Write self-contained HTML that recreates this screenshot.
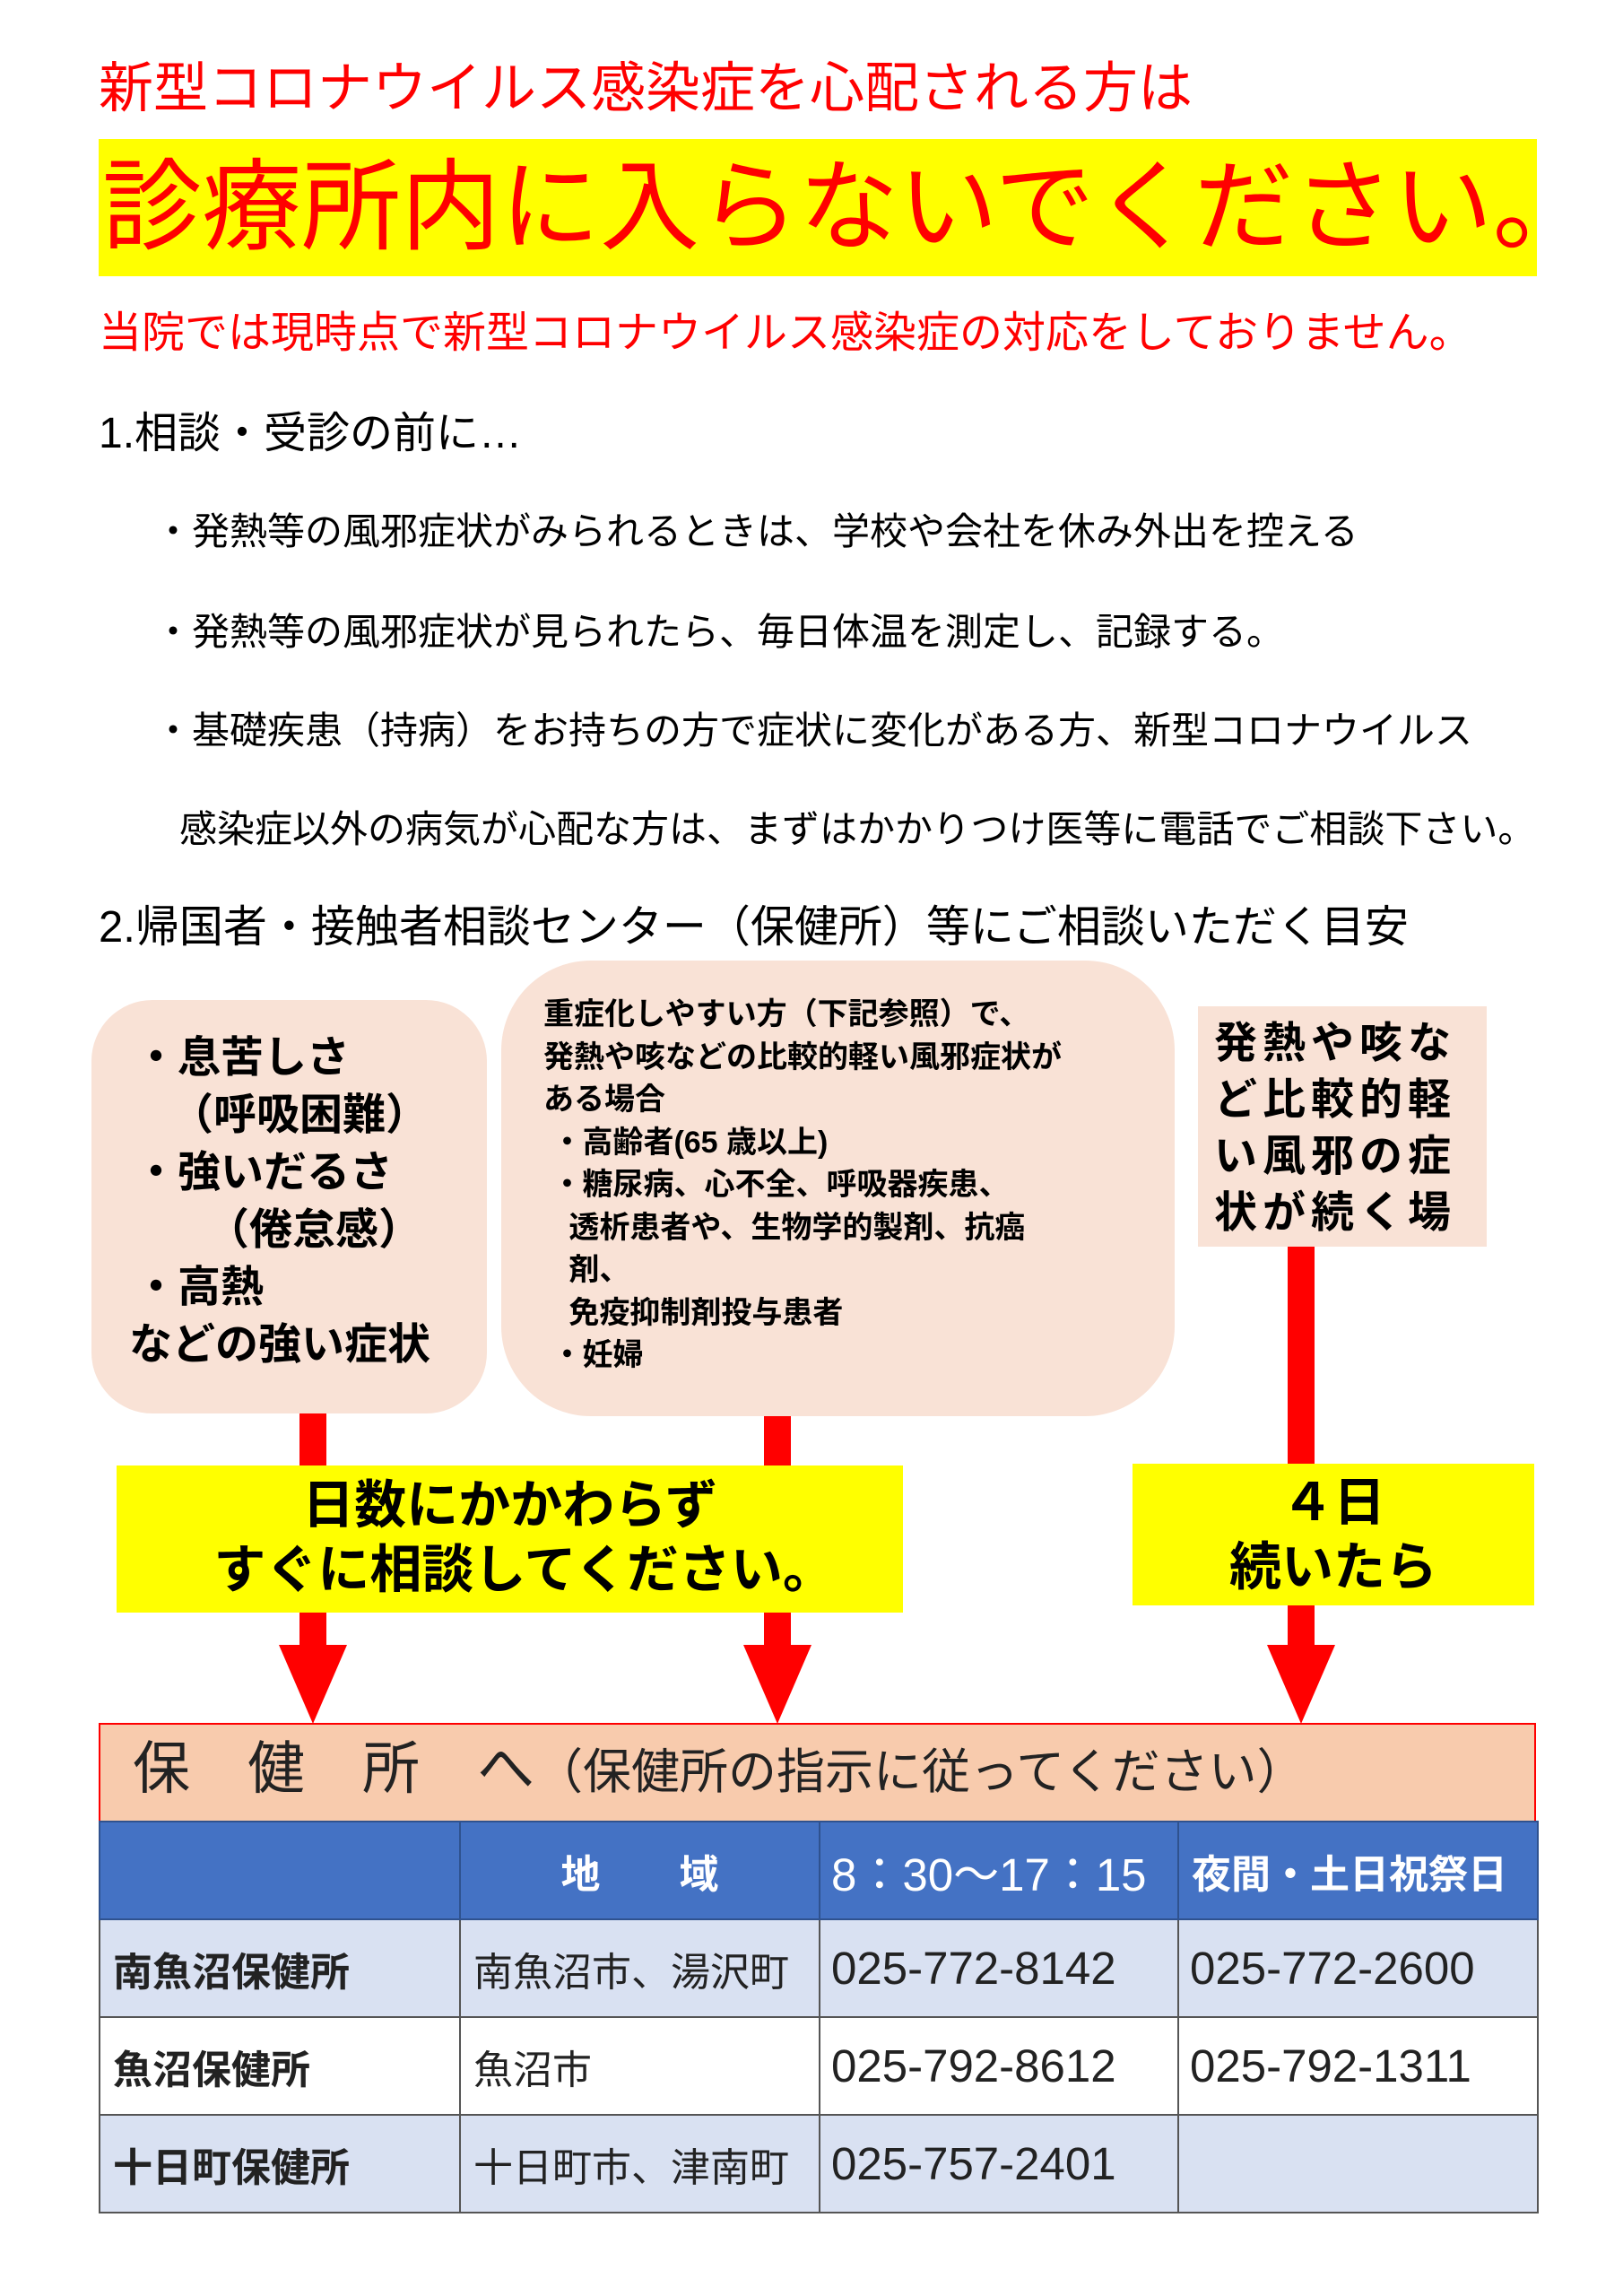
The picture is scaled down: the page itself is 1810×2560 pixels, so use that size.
<!DOCTYPE html>
<html><head><meta charset="utf-8"><style>
body{margin:0;width:1810px;height:2560px;background:#fff;position:relative;overflow:hidden;font-family:"Liberation Sans","Noto Sans CJK JP",sans-serif;}
.a{position:absolute;white-space:nowrap;line-height:1;}
.red{color:#f00;}
.box{position:absolute;background:#f9e2d6;}
.bar{position:absolute;background:#f00;}
.yl{position:absolute;background:#ffff00;}
.arr{position:absolute;width:0;height:0;border-left:38px solid transparent;border-right:38px solid transparent;border-top:88px solid #f00;}
table{position:absolute;left:110px;top:2030px;width:1604px;border-collapse:collapse;table-layout:fixed;}
td{border:2px solid #555;height:107px;font-size:44px;padding:0 0 0 14px;color:#222;white-space:nowrap;overflow:hidden;}
tr.h td{background:#4472c4;color:#fff;border-color:#2f528f;}
tr.b td{background:#d9e1f2;}
.n{font-size:51px !important;padding-left:12px !important;}
</style></head><body>
<div class="a red" style="left:110px;top:68px;font-size:61px;">新型コロナウイルス感染症を心配される方は</div>
<div class="yl" style="left:110px;top:155px;width:1604px;height:153px;"></div>
<div class="a red" style="left:114px;top:176px;font-size:111px;">診療所内に入らないでください。</div>
<div class="a red" style="left:110px;top:348px;font-size:48px;">当院では現時点で新型コロナウイルス感染症の対応をしておりません。</div>
<div class="a" style="left:110px;top:460px;font-size:48px;">1.相談・受診の前に…</div>
<div class="a" style="left:172px;top:572px;font-size:42px;">・発熱等の風邪症状がみられるときは、学校や会社を休み外出を控える</div>
<div class="a" style="left:172px;top:684px;font-size:42px;">・発熱等の風邪症状が見られたら、毎日体温を測定し、記録する。</div>
<div class="a" style="left:172px;top:794px;font-size:42px;">・基礎疾患（持病）をお持ちの方で症状に変化がある方、新型コロナウイルス</div>
<div class="a" style="left:200px;top:904px;font-size:42px;">感染症以外の病気が心配な方は、まずはかかりつけ医等に電話でご相談下さい。</div>
<div class="a" style="left:110px;top:1010px;font-size:49px;">2.帰国者・接触者相談センター（保健所）等にご相談いただく目安</div>

<div class="box" style="left:102px;top:1115px;width:441px;height:461px;border-radius:68px;"></div>
<div class="a" style="left:150px;top:1148px;font-size:48px;font-weight:bold;line-height:64px;">・息苦しさ<br>&nbsp;&nbsp;&nbsp;（呼吸困難）<br>・強いだるさ<br>&nbsp;&nbsp;&nbsp;&nbsp;&nbsp;&nbsp;（倦怠感）<br>・高熱<br><span style="margin-left:-6px">などの強い症状</span></div>

<div class="box" style="left:559px;top:1071px;width:751px;height:508px;border-radius:100px;"></div>
<div class="a" style="left:606px;top:1108px;font-size:34px;font-weight:bold;line-height:47.5px;">重症化しやすい方（下記参照）で、<br>発熱や咳などの比較的軽い風邪症状が<br>ある場合<br>&nbsp;・高齢者(65 歳以上)<br>&nbsp;・糖尿病、心不全、呼吸器疾患、<br>&nbsp;&nbsp;&nbsp;透析患者や、生物学的製剤、抗癌<br>&nbsp;&nbsp;&nbsp;剤、<br>&nbsp;&nbsp;&nbsp;免疫抑制剤投与患者<br>&nbsp;・妊婦</div>

<div class="box" style="left:1336px;top:1122px;width:322px;height:268px;"></div>
<div class="a" style="left:1354px;top:1132px;font-size:48px;font-weight:bold;line-height:63px;letter-spacing:6px;">発熱や咳な<br>ど比較的軽<br>い風邪の症<br>状が続く場</div>

<div class="bar" style="left:334px;top:1576px;width:30px;height:60px;"></div>
<div class="bar" style="left:852px;top:1579px;width:30px;height:57px;"></div>
<div class="bar" style="left:1436px;top:1390px;width:30px;height:244px;"></div>

<div class="yl" style="left:130px;top:1634px;width:877px;height:164px;"></div>
<div class="a" style="left:130px;top:1643px;width:877px;text-align:center;font-size:58px;font-weight:bold;line-height:72px;">日数にかかわらず<br>&nbsp;&nbsp;すぐに相談してください。</div>
<div class="yl" style="left:1263px;top:1632px;width:448px;height:158px;"></div>
<div class="a" style="left:1263px;top:1640px;width:448px;text-align:center;font-size:58px;font-weight:bold;line-height:72px;">４日<br>続いたら</div>

<div class="bar" style="left:334px;top:1798px;width:30px;height:40px;"></div>
<div class="arr" style="left:311px;top:1834px;"></div>
<div class="bar" style="left:852px;top:1798px;width:30px;height:40px;"></div>
<div class="arr" style="left:829px;top:1834px;"></div>
<div class="bar" style="left:1436px;top:1790px;width:30px;height:48px;"></div>
<div class="arr" style="left:1413px;top:1834px;"></div>

<div style="position:absolute;left:110px;top:1921px;width:1599px;height:107px;background:#f8cbad;border:2px solid #f00;border-bottom:none;"></div>
<div class="a" style="left:148px;top:1940px;font-size:64px;color:#222;">保　健　所　へ<span style="font-size:54px;">（保健所の指示に従ってください）</span></div>

<table>
<colgroup><col style="width:402px"><col style="width:401px"><col style="width:400px"><col style="width:401px"></colgroup>
<tr class="h"><td></td><td style="text-align:center;padding:0;font-weight:bold;">地　　域</td><td class="n">8：30～17：15</td><td style="font-weight:bold;">夜間・土日祝祭日</td></tr>
<tr class="b"><td style="font-weight:bold;">南魚沼保健所</td><td>南魚沼市、湯沢町</td><td class="n">025-772-8142</td><td class="n">025-772-2600</td></tr>
<tr><td style="font-weight:bold;">魚沼保健所</td><td>魚沼市</td><td class="n">025-792-8612</td><td class="n">025-792-1311</td></tr>
<tr class="b"><td style="font-weight:bold;">十日町保健所</td><td>十日町市、津南町</td><td class="n">025-757-2401</td><td></td></tr>
</table>
</body></html>
